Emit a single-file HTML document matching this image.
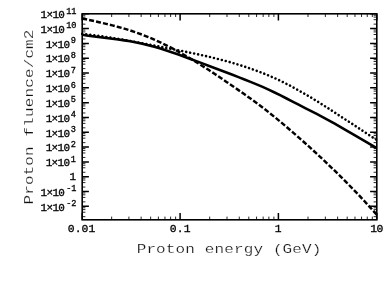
<!DOCTYPE html>
<html><head><meta charset="utf-8"><title>Proton fluence</title>
<style>
html,body{margin:0;padding:0;background:#fff;}
body{width:390px;height:288px;overflow:hidden;font-family:"Liberation Mono",monospace;}
svg{display:block;will-change:transform;}
text{font-family:"Liberation Mono",monospace;fill:#000;}
.yt{font-size:11px;letter-spacing:-0.66px;text-anchor:end;stroke:#000;stroke-width:0.3px;}
.ys{font-size:8.6px;letter-spacing:0px;}
.xt{font-size:11.4px;letter-spacing:0.1px;stroke:#000;stroke-width:0.3px;}
.ax{font-size:16px;letter-spacing:0.14px;fill:#111;stroke:#fff;stroke-width:0.24px;}
</style></head>
<body>
<svg width="390" height="288" viewBox="0 0 390 288">
<rect x="0" y="0" width="390" height="288" fill="#fff"/>
<g fill="none" stroke="#000">
<path d="M82.2,24.15h3.2M376.8,24.15h-3.2M82.2,19.69h3.2M376.8,19.69h-3.2M82.2,17.09h3.2M376.8,17.09h-3.2M82.2,15.24h3.2M376.8,15.24h-3.2M82.2,38.96h3.2M376.8,38.96h-3.2M82.2,34.50h3.2M376.8,34.50h-3.2M82.2,31.90h3.2M376.8,31.90h-3.2M82.2,30.05h3.2M376.8,30.05h-3.2M82.2,53.77h3.2M376.8,53.77h-3.2M82.2,49.31h3.2M376.8,49.31h-3.2M82.2,46.71h3.2M376.8,46.71h-3.2M82.2,44.86h3.2M376.8,44.86h-3.2M82.2,68.58h3.2M376.8,68.58h-3.2M82.2,64.12h3.2M376.8,64.12h-3.2M82.2,61.52h3.2M376.8,61.52h-3.2M82.2,59.67h3.2M376.8,59.67h-3.2M82.2,83.39h3.2M376.8,83.39h-3.2M82.2,78.93h3.2M376.8,78.93h-3.2M82.2,76.33h3.2M376.8,76.33h-3.2M82.2,74.48h3.2M376.8,74.48h-3.2M82.2,98.20h3.2M376.8,98.20h-3.2M82.2,93.74h3.2M376.8,93.74h-3.2M82.2,91.14h3.2M376.8,91.14h-3.2M82.2,89.29h3.2M376.8,89.29h-3.2M82.2,113.01h3.2M376.8,113.01h-3.2M82.2,108.55h3.2M376.8,108.55h-3.2M82.2,105.95h3.2M376.8,105.95h-3.2M82.2,104.10h3.2M376.8,104.10h-3.2M82.2,127.82h3.2M376.8,127.82h-3.2M82.2,123.36h3.2M376.8,123.36h-3.2M82.2,120.76h3.2M376.8,120.76h-3.2M82.2,118.91h3.2M376.8,118.91h-3.2M82.2,142.63h3.2M376.8,142.63h-3.2M82.2,138.17h3.2M376.8,138.17h-3.2M82.2,135.57h3.2M376.8,135.57h-3.2M82.2,133.72h3.2M376.8,133.72h-3.2M82.2,157.44h3.2M376.8,157.44h-3.2M82.2,152.98h3.2M376.8,152.98h-3.2M82.2,150.38h3.2M376.8,150.38h-3.2M82.2,148.53h3.2M376.8,148.53h-3.2M82.2,172.25h3.2M376.8,172.25h-3.2M82.2,167.79h3.2M376.8,167.79h-3.2M82.2,165.19h3.2M376.8,165.19h-3.2M82.2,163.34h3.2M376.8,163.34h-3.2M82.2,187.06h3.2M376.8,187.06h-3.2M82.2,182.60h3.2M376.8,182.60h-3.2M82.2,180.00h3.2M376.8,180.00h-3.2M82.2,178.15h3.2M376.8,178.15h-3.2M82.2,201.87h3.2M376.8,201.87h-3.2M82.2,197.41h3.2M376.8,197.41h-3.2M82.2,194.81h3.2M376.8,194.81h-3.2M82.2,192.96h3.2M376.8,192.96h-3.2M82.2,216.68h3.2M376.8,216.68h-3.2M82.2,212.22h3.2M376.8,212.22h-3.2M82.2,209.62h3.2M376.8,209.62h-3.2M82.2,207.77h3.2M376.8,207.77h-3.2M111.67,219.8v-3.2M111.67,13.8v3.2M128.91,219.8v-3.2M128.91,13.8v3.2M141.14,219.8v-3.2M141.14,13.8v3.2M150.63,219.8v-3.2M150.63,13.8v3.2M158.38,219.8v-3.2M158.38,13.8v3.2M164.94,219.8v-3.2M164.94,13.8v3.2M170.61,219.8v-3.2M170.61,13.8v3.2M175.62,219.8v-3.2M175.62,13.8v3.2M209.69,219.8v-3.2M209.69,13.8v3.2M227.00,219.8v-3.2M227.00,13.8v3.2M239.28,219.8v-3.2M239.28,13.8v3.2M248.81,219.8v-3.2M248.81,13.8v3.2M256.59,219.8v-3.2M256.59,13.8v3.2M263.17,219.8v-3.2M263.17,13.8v3.2M268.87,219.8v-3.2M268.87,13.8v3.2M273.90,219.8v-3.2M273.90,13.8v3.2M308.02,219.8v-3.2M308.02,13.8v3.2M325.35,219.8v-3.2M325.35,13.8v3.2M337.64,219.8v-3.2M337.64,13.8v3.2M347.18,219.8v-3.2M347.18,13.8v3.2M354.97,219.8v-3.2M354.97,13.8v3.2M361.56,219.8v-3.2M361.56,13.8v3.2M367.26,219.8v-3.2M367.26,13.8v3.2M372.30,219.8v-3.2M372.30,13.8v3.2" stroke-width="0.85"/>
<path d="M82.2,13.80h6.7M376.8,13.80h-6.7M82.2,28.61h6.7M376.8,28.61h-6.7M82.2,43.42h6.7M376.8,43.42h-6.7M82.2,58.23h6.7M376.8,58.23h-6.7M82.2,73.04h6.7M376.8,73.04h-6.7M82.2,87.85h6.7M376.8,87.85h-6.7M82.2,102.66h6.7M376.8,102.66h-6.7M82.2,117.47h6.7M376.8,117.47h-6.7M82.2,132.28h6.7M376.8,132.28h-6.7M82.2,147.09h6.7M376.8,147.09h-6.7M82.2,161.90h6.7M376.8,161.90h-6.7M82.2,176.71h6.7M376.8,176.71h-6.7M82.2,191.52h6.7M376.8,191.52h-6.7M82.2,206.33h6.7M376.8,206.33h-6.7M82.20,219.8v-6.7M82.20,13.8v6.7M180.10,219.8v-6.7M180.10,13.8v6.7M278.40,219.8v-6.7M278.40,13.8v6.7M376.80,219.8v-6.7M376.80,13.8v6.7" stroke-width="1.5"/>
<rect x="82.2" y="13.8" width="294.6" height="206.0" stroke-width="1.6"/>
<path d="M82.2,34.82 L88.2,35.72 L94.2,36.53 L100.2,37.29 L106.2,38.02 L112.3,38.75 L118.3,39.53 L124.3,40.38 L130.3,41.34 L136.3,42.44 L142.3,43.71 L148.3,45.17 L154.3,46.80 L160.4,48.57 L166.4,50.47 L172.4,52.48 L178.4,54.57 L184.4,56.73 L190.4,58.94 L196.4,61.18 L202.4,63.43 L208.5,65.68 L214.5,67.94 L220.5,70.20 L226.5,72.48 L232.5,74.78 L238.5,77.11 L244.5,79.47 L250.5,81.88 L256.6,84.37 L262.6,86.95 L268.6,89.67 L274.6,92.51 L280.6,95.47 L286.6,98.51 L292.6,101.59 L298.6,104.70 L304.7,107.79 L310.7,110.87 L316.7,113.98 L322.7,117.13 L328.7,120.35 L334.7,123.67 L340.7,127.08 L346.7,130.56 L352.8,134.08 L358.8,137.62 L364.8,141.17 L370.8,144.70 L376.8,148.19" stroke-width="2.55" stroke-linejoin="round"/>
<path d="M82.2,18.41 L88.2,19.76 L94.2,21.11 L100.2,22.48 L106.2,23.90 L112.3,25.39 L118.3,26.98 L124.3,28.68 L130.3,30.51 L136.3,32.51 L142.3,34.69 L148.3,37.07 L154.3,39.63 L160.4,42.38 L166.4,45.29 L172.4,48.37 L178.4,51.60 L184.4,54.98 L190.4,58.51 L196.4,62.17 L202.4,65.95 L208.5,69.84 L214.5,73.81 L220.5,77.83 L226.5,81.89 L232.5,85.98 L238.5,90.12 L244.5,94.33 L250.5,98.62 L256.6,103.02 L262.6,107.54 L268.6,112.19 L274.6,116.99 L280.6,121.94 L286.6,127.01 L292.6,132.17 L298.6,137.42 L304.7,142.74 L310.7,148.15 L316.7,153.64 L322.7,159.24 L328.7,164.94 L334.7,170.74 L340.7,176.65 L346.7,182.68 L352.8,188.83 L358.8,195.10 L364.8,201.51 L370.8,208.05 L376.8,214.73" stroke-width="2.45" stroke-dasharray="5.0 2.1" stroke-linejoin="round"/>
<path d="M82.2,33.93 L88.2,34.56 L94.2,35.28 L100.2,36.08 L106.2,36.95 L112.3,37.89 L118.3,38.89 L124.3,39.93 L130.3,41.02 L136.3,42.14 L142.3,43.28 L148.3,44.44 L154.3,45.61 L160.4,46.78 L166.4,47.95 L172.4,49.12 L178.4,50.30 L184.4,51.50 L190.4,52.73 L196.4,54.00 L202.4,55.31 L208.5,56.68 L214.5,58.12 L220.5,59.63 L226.5,61.22 L232.5,62.91 L238.5,64.69 L244.5,66.59 L250.5,68.60 L256.6,70.75 L262.6,73.04 L268.6,75.49 L274.6,78.10 L280.6,80.90 L286.6,83.88 L292.6,87.03 L298.6,90.34 L304.7,93.79 L310.7,97.35 L316.7,101.02 L322.7,104.78 L328.7,108.61 L334.7,112.49 L340.7,116.41 L346.7,120.35 L352.8,124.30 L358.8,128.25 L364.8,132.19 L370.8,136.11 L376.8,140.01" stroke-width="2.6" stroke-dasharray="0.01 4.05" stroke-linecap="round" stroke-linejoin="round"/>
</g>
<g>
<text x="76.5" y="18.0" class="yt">1×10<tspan class="ys" dx="1.9" dy="-4.5">11</tspan></text>
<text x="76.5" y="32.8" class="yt">1×10<tspan class="ys" dx="1.9" dy="-4.5">10</tspan></text>
<text x="75.8" y="47.6" class="yt">1×10<tspan class="ys" dx="1.2" dy="-4.5">9</tspan></text>
<text x="75.8" y="62.4" class="yt">1×10<tspan class="ys" dx="1.2" dy="-4.5">8</tspan></text>
<text x="75.8" y="77.2" class="yt">1×10<tspan class="ys" dx="1.2" dy="-4.5">7</tspan></text>
<text x="75.8" y="92.0" class="yt">1×10<tspan class="ys" dx="1.2" dy="-4.5">6</tspan></text>
<text x="75.8" y="106.9" class="yt">1×10<tspan class="ys" dx="1.2" dy="-4.5">5</tspan></text>
<text x="75.8" y="121.7" class="yt">1×10<tspan class="ys" dx="1.2" dy="-4.5">4</tspan></text>
<text x="75.8" y="136.5" class="yt">1×10<tspan class="ys" dx="1.2" dy="-4.5">3</tspan></text>
<text x="75.8" y="151.3" class="yt">1×10<tspan class="ys" dx="1.2" dy="-4.5">2</tspan></text>
<text x="75.8" y="166.1" class="yt">1×10<tspan class="ys" dx="1.2" dy="-4.5">1</tspan></text>
<text x="75.4" y="179.8" class="yt">1</text>
<text x="76.5" y="195.7" class="yt">1×10<tspan class="ys" dx="1.9" dy="-4.5">-1</tspan></text>
<text x="76.5" y="210.5" class="yt">1×10<tspan class="ys" dx="1.9" dy="-4.5">-2</tspan></text>
</g>
<g text-anchor="middle">
<text x="81.6" y="232.1" class="xt">0.01</text>
<text x="180.2" y="232.1" class="xt">0.1</text>
<text x="278.2" y="232.1" class="xt">1</text>
<text x="376.6" y="232.1" class="xt" style="letter-spacing:-0.4px">10</text>
<text transform="translate(229.1 253.4) scale(1 0.83)" x="0" y="0" class="ax">Proton energy (GeV)</text>
<text transform="translate(33.0 117.0) rotate(-90) scale(1 0.83)" x="0" y="0" class="ax">Proton fluence/cm2</text>
</g>
</svg>
</body></html>
